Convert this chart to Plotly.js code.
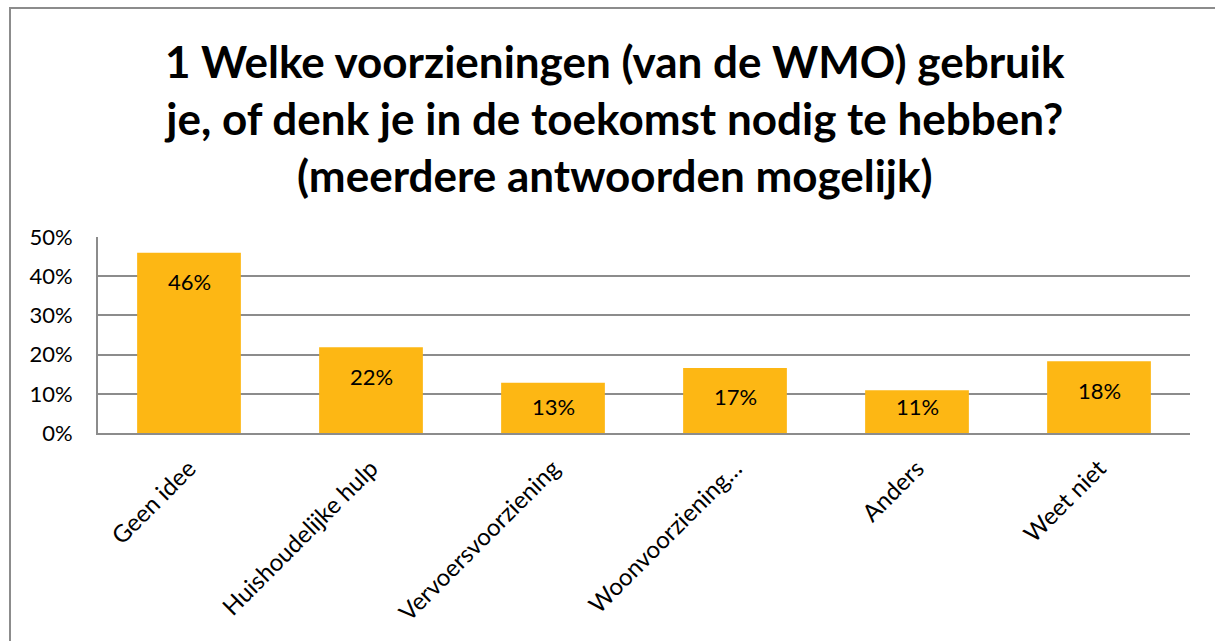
<!DOCTYPE html>
<html>
<head>
<meta charset="utf-8">
<script src="https://cdn.plot.ly/plotly-3.0.1.min.js"></script>
<style>
  html, body { margin:0; padding:0; background:#fff; }
  #wrap { position:relative; width:1215px; height:641px; }
  #chart { width:1215px; height:641px; }
  #frame { position:absolute; left:9px; top:7px; right:-5px; bottom:-5px;
           border-left:2px solid #8c8c8c; border-top:2px solid #8c8c8c; pointer-events:none; }
</style>
</head>
<body>
<div id="wrap">
  <div id="chart"></div>
  <div id="frame"></div>
</div>
<script>
// ---- data ----
const categories = ["Geen idee", "Huishoudelijke hulp", "Vervoersvoorziening", "Woonvoorziening…", "Anders", "Weet niet"];
const values = [0.46, 0.219, 0.128, 0.166, 0.109, 0.183];
const valueLabels = ["46%", "22%", "13%", "17%", "11%", "18%"];
const yTickVals = [0, 0.1, 0.2, 0.3, 0.4, 0.5];
const yTickText = ["0%", "10%", "20%", "30%", "40%", "50%"];
const titleText = "1 Welke voorzieningen (van de WMO) gebruik<br>je, of denk je in de toekomst nodig te hebben?<br>(meerdere antwoorden mogelijk)";

// ---- layout geometry ----
const W = 1215, H = 641;
const M = { l: 97.5, r: 24.5, t: 237.3, b: 208.3 };
const yMax = 0.5;
const plotH = H - M.t - M.b;
const pxPerUnit = plotH / yMax;

const FONT = "Lato, 'Open Sans', sans-serif";

// labels placed inside end of bars, clamped for short bars
const annotations = categories.map((c, i) => {
  const barPx = values[i] * pxPerUnit;
  const shift = Math.min(29, barPx - 26.5);
  return {
    x: c, y: values[i], xref: 'x', yref: 'y',
    text: valueLabels[i], showarrow: false,
    yshift: -shift, yanchor: 'middle', xanchor: 'center',
    font: { family: FONT, size: 22, color: '#000' }
  };
});

const trace = {
  type: 'bar',
  x: categories,
  y: values,
  marker: { color: '#FDB714', line: { width: 0 } },
  hoverinfo: 'x+y'
};

const layout = {
  width: W, height: H,
  margin: M,
  paper_bgcolor: '#fff', plot_bgcolor: '#fff',
  showlegend: false,
  bargap: 0.43,
  title: {
    text: titleText,
    font: { family: FONT, size: 44, color: '#000', weight: 'bold' },
    x: 0.506, xref: 'container', xanchor: 'center',
    y: 1 - 78 / H, yref: 'container', yanchor: 'top'
  },
  xaxis: {
    type: 'category',
    tickangle: -45,
    tickfont: { family: FONT, size: 24, color: '#000' },
    showline: true, linecolor: '#8c8c8c', linewidth: 2,
    showgrid: false, ticks: '', zeroline: false,
    ticklabelstandoff: 10
  },
  yaxis: {
    range: [0, yMax],
    tickvals: yTickVals, ticktext: yTickText,
    tickfont: { family: FONT, size: 22, color: '#000' },
    showline: true, linecolor: '#8c8c8c', linewidth: 2,
    showgrid: true, gridcolor: '#8c8c8c', gridwidth: 2,
    zeroline: false, ticks: '',
    ticklabelstandoff: 19
  },
  annotations: annotations
};

Plotly.newPlot('chart', [trace], layout, { displayModeBar: false, staticPlot: true });
</script>
</body>
</html>
